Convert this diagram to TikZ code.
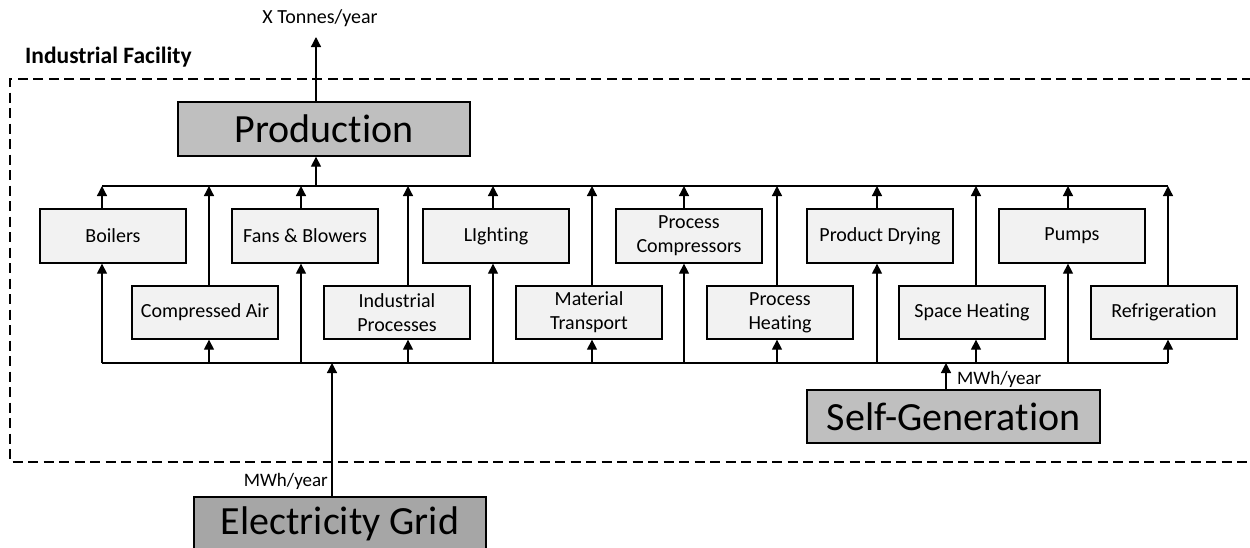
\documentclass[tikz,border=0pt]{standalone}
\usepackage{fontspec}
\setmainfont{Carlito}[Ligatures=CommonOff]
\usetikzlibrary{arrows.meta}
\definecolor{smallfill}{HTML}{F2F2F2}
\definecolor{bigfill}{HTML}{BFBFBF}
\definecolor{gridfill}{HTML}{A6A6A6}
\tikzset{
  unitbox/.style={draw, line width=1.3pt, fill=smallfill, minimum width=146pt, minimum height=54pt, inner sep=0pt, align=center, font=\fontsize{20}{24}\selectfont},
  bigbox/.style={draw, line width=1.3pt, fill=bigfill, inner sep=0pt, font=\fontsize{40}{48}\selectfont},
  conn/.style={line width=1.3pt},
  arr/.style={line width=1.3pt, -{Triangle[width=10pt,length=10pt]}},
  lbl/.style={inner sep=0pt, font=\fontsize{19}{23}\selectfont},
  facility/.style={line width=1.3pt, dash pattern=on 10pt off 5.5pt}
}
\begin{document}
\begin{tikzpicture}[x=1pt,y=-1pt]
\useasboundingbox (0,0) rectangle (1250,547);
% facility boundary
\draw[facility] (1252,79) -- (10,79) -- (10,462) -- (1252,462);
\node[inner sep=0pt, anchor=west, font=\bfseries\fontsize{23.5}{28}\selectfont] (fac) at (25,57) {Industrial Facility};

% buses and column coordinates
\coordinate (topbus) at (0,186);
\coordinate (botbus) at (0,363);
\coordinate (c1) at (102,0);
\coordinate (c2) at (209,0);
\coordinate (c3) at (301,0);
\coordinate (c4) at (408,0);
\coordinate (c5) at (493,0);
\coordinate (c6) at (592,0);
\coordinate (c7) at (684,0);
\coordinate (c8) at (777,0);
\coordinate (c9) at (877,0);
\coordinate (c10) at (976,0);
\coordinate (c11) at (1068,0);
\coordinate (c12) at (1168,0);
\coordinate (cp) at (316,0);
\coordinate (cg) at (332,0);
\coordinate (cs) at (946,0);
\coordinate (out) at (316,37);

% production
\node[bigbox, minimum width=292pt, minimum height=54pt] (prod) at (324,129) {Production};
\node[lbl, font=\fontsize{20}{24}\selectfont] (tonnes) at (320,18) {X Tonnes/year};
\draw[arr] (prod.north -| cp) -- (out);
\draw[arr] (topbus -| cp) -- (prod.south -| cp);

% top row
\node[unitbox] (boilers) at (113,236) {Boilers};
\node[unitbox] (fans) at (305,236) {Fans \& Blowers};
\node[unitbox] (light) at (496,236) {LIghting};
\node[unitbox] (pcomp) at (689,236) {Process\\Compressors};
\node[unitbox] (pdry) at (880,236) {Product Drying};
\node[unitbox] (pumps) at (1072,236) {Pumps};
% bottom row
\node[unitbox, minimum height=53pt] (comp) at (205,312.5) {Compressed Air};
\node[unitbox, minimum height=53pt] (indproc) at (397,312.5) {Industrial\\Processes};
\node[unitbox, minimum height=53pt] (mat) at (589,312.5) {Material\\Transport};
\node[unitbox, minimum height=53pt] (pheat) at (780,312.5) {Process\\Heating};
\node[unitbox, minimum height=53pt] (space) at (972,312.5) {Space Heating};
\node[unitbox, minimum height=53pt] (refrig) at (1164,312.5) {Refrigeration};

% buses
\draw[conn] (topbus -| c1) -- (topbus -| c12);
\draw[conn] (botbus -| c1) -- (botbus -| c12);

% top-row connections
\foreach \b/\c in {boilers/c1, fans/c3, light/c5, pcomp/c7, pdry/c9, pumps/c11} {
  \draw[arr] (\b.north -| \c) -- (topbus -| \c);
  \draw[arr] (botbus -| \c) -- (\b.south -| \c);
}
% bottom-row connections
\foreach \b/\c in {comp/c2, indproc/c4, mat/c6, pheat/c8, space/c10, refrig/c12} {
  \draw[arr] (\b.north -| \c) -- (topbus -| \c);
  \draw[arr] (botbus -| \c) -- (\b.south -| \c);
}

% self-generation
\node[bigbox, minimum width=293pt, minimum height=53pt] (self) at (953.5,416.5) {Self-Generation};
\draw[arr] (self.north -| cs) -- (botbus -| cs);
\node[lbl, anchor=west] (mwhs) at (957,379) {MWh/year};

% electricity grid
\begin{scope}
\clip (0,0) rectangle (1250,547);
\node[bigbox, fill=gridfill, minimum width=292pt, minimum height=60pt, text depth=0pt] (grid) at (340,527) {};
\end{scope}
\node[inner sep=0pt, font=\fontsize{40}{48}\selectfont] (gridtext) at (340,524) {Electricity Grid};
\draw[arr] (grid.north -| cg) -- (botbus -| cg);
\node[lbl, anchor=east] (mwhg) at (328,481) {MWh/year};
\end{tikzpicture}
\end{document}
